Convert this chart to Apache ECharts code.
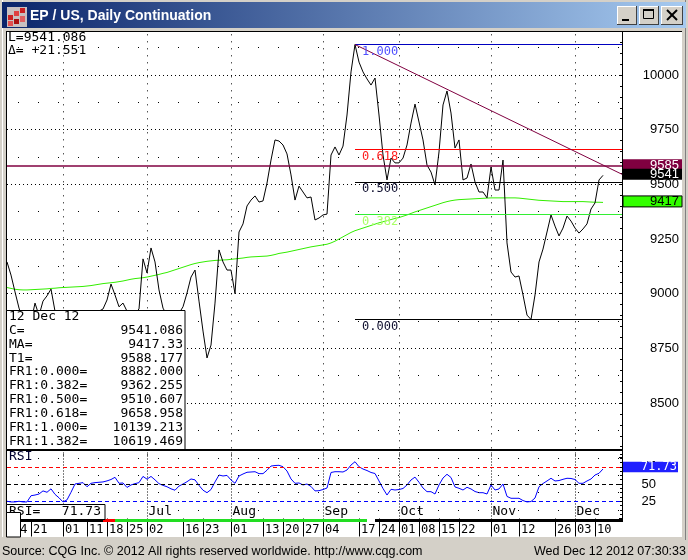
<!DOCTYPE html>
<html><head><meta charset="utf-8">
<script src="https://cdn.jsdelivr.net/npm/echarts@6.0.0/dist/echarts.min.js"></script>
<style>html,body{margin:0;padding:0;background:#d4d0c8;}#c{width:688px;height:560px;}</style>
</head><body><div id="c"></div>
<script>
// ---------------- data ----------------
const closes = [
 9145,9085,9008,8934,8880,8850,8870,8957,8900,8966,
 8990,9021,8920,8860,8820,8800,8780,8800,8830,8860,
 8880,8870,8900,8920,8930,8971,9044,8994,8940,8957,
 8920,8900,8910,8930,9159,9095,9209,9145,9017,8934,
 8900,8880,8900,8910,8940,9003,9076,9108,8966,8829,
 8706,8765,8957,9200,9145,9108,9108,9000,9282,9319,
 9401,9428,9447,9419,9424,9506,9611,9703,9698,9680,
 9639,9543,9428,9492,9465,9438,9442,9337,9346,9360,
 9364,9634,9671,9634,9675,9817,10014,10139.213,10059,10014,
 9982,9954,9986,9817,9634,9520,9620,9598,9598,9620,
 9680,9780,9867,9785,9703,9588,9556,9497,9648,9863,
 9927,9826,9666,9703,9520,9529,9593,9511,9465,9465,
 9438,9579,9474,9474,9611,9232,9099,9076,9081,8994,
 8902,8882,8994,9145,9204,9282,9360,9309,9264,9300,
 9355,9332,9300,9277,9296,9319,9387,9415,9520,9541.086];
const maValues = [
 9028,9024,9020,9018,9017,9017,9018,9019,9020,9021,
 9022,9024,9025,9027,9028,9029,9030,9031,9032,9033,
 9035,9037,9040,9043,9046,9048,9050,9052,9055,9058,
 9062,9066,9069,9071,9073,9076,9080,9084,9088,9093,
 9097,9103,9109,9115,9121,9127,9133,9138,9142,9145,
 9148,9150,9152,9153,9154,9155,9157,9159,9161,9163,
 9166,9168,9169,9170,9171,9172,9175,9179,9184,9187,
 9190,9194,9198,9202,9206,9210,9214,9217,9220,9223,
 9226,9232,9240,9250,9260,9270,9280,9288,9294,9300,
 9306,9312,9318,9324,9329,9334,9339,9344,9348,9354,
 9360,9367,9374,9380,9386,9392,9398,9404,9410,9416,
 9421,9425,9428,9430,9431,9432,9433,9434,9435,9436,
 9437,9438,9438,9438,9438,9438,9438,9438,9437,9435,
 9433,9431,9429,9427,9426,9425,9424,9423,9422,9421,
 9421,9421,9421,9421,9421,9420,9419,9418,9418,9417.33];
const rsiValues = [
 25,24,24,25,24,24,33,34,35.5,40,
 38,43,35,30,24,27,38,50,51,52,
 46,51,52,52.5,53,54.5,56.5,59.7,51,51.5,
 45,48.6,50.5,52,61,57,61,56,50.5,48,
 46,43,41,47,50,53.3,57.3,56,48,41,
 37.4,42,53,63,61.6,62.5,55.8,51,61.6,64.5,
 67,67.4,67.8,65,65,70,76,76.8,77.1,75,
 68.8,57.3,51,51.5,48.6,50,46.4,40,40.3,42,
 44.2,66.7,67.8,67.8,67.4,70.3,77.5,82.3,75,71.7,
 69.5,66.7,65.2,54.4,43.5,34,42.3,41.3,42,43.5,
 48.6,55.8,60,52.5,44.2,38.9,38.9,35.5,48.6,58.7,
 64.1,59.4,45.7,43.8,41.3,45.2,42.8,39.1,37.4,37.4,
 35.5,48.6,41.3,42.8,50,32,29.3,29.3,29.3,26,
 24,24.6,29.7,46,50.7,54.4,58.3,54.4,55,56.8,
 58.3,58,56.5,51,51,54.4,57.3,63,65.5,71.73];
const holidays = ['2012-05-28','2012-07-04','2012-09-03','2012-11-22'];
const dayLabels = ['2012-05-14','2012-05-21','2012-06-01','2012-06-11','2012-06-18','2012-06-25','2012-07-02',
 '2012-07-16','2012-07-23','2012-08-01','2012-08-13','2012-08-20','2012-08-27','2012-09-04','2012-09-17',
 '2012-09-24','2012-10-01','2012-10-08','2012-10-15','2012-10-22','2012-11-01','2012-11-12','2012-11-26',
 '2012-12-03','2012-12-10'];
const monthStarts = ['2012-06-01','2012-07-02','2012-08-01','2012-09-04','2012-10-01','2012-11-01','2012-12-03'];
const monthNames = ['Jun','Jul','Aug','Sep','Oct','Nov','Dec'];
const priceTicks = [8500,8750,9000,9250,9500,9750,10000];
const priceDotRows = [8375,8625,8875,9125,9375,9625,9875,10125];
const rsiLevels = [75,50,25];
const rsiDotRows = [87.5,62.5,37.5,12.5];
const fibLevels = [10139.213,9658.958,9510.607,9362.255,8882.000];
const fibNames = ['1.000','0.618','0.500','0.382','0.000'];
const fibColors = ['#0000c0','#ff0000','#000000','#33ee33','#000000'];
const fibLabelColors = ['#5050ff','#ff2020','#101030','#aaff66','#101030'];
const fibStartDate = '2012-09-14';
const trendStart = 10139.213;   // at 2012-09-14
const trendT1 = 9588.177;       // at 2012-12-12
const hLine = 9585;
const boxLabels = ['12 Dec 12','C=','MA=','T1=','FR1:0.000=','FR1:0.382=','FR1:0.500=','FR1:0.618=','FR1:1.000=','FR1:1.382='];
const boxValues = ['','9541.086','9417.33','9588.177','8882.000','9362.255','9510.607','9658.958','10139.213','10619.469'];
const stripSegments = [[0,24,'#000000'],[24,27,'#ff0000'],[27,90,'#22dd22'],[90,92,'#ffffff'],[92,154,'#000000']];

// ---------------- trading-day categories ----------------
const dates = [];
{ let d = new Date(Date.UTC(2012,4,11));
  while (dates.length < 155) {
    const s = d.toISOString().slice(0,10), wd = d.getUTCDay();
    if (wd !== 0 && wd !== 6 && !holidays.includes(s)) dates.push(s);
    d.setUTCDate(d.getUTCDate()+1);
  } }

const mono = "'DejaVu Sans Mono', monospace";
const sans = "'Liberation Sans', Arial, sans-serif";
const chart = echarts.init(document.getElementById('c'));

const fibIdx0 = dates.indexOf(fibStartDate);
const t1Idx = dates.indexOf('2012-12-12');
const slope = (trendT1 - trendStart) / (t1Idx - fibIdx0);
const trendEnd = trendStart + slope * (154 - fibIdx0);

const priceMarks = fibLevels.map((v,k) => [
  {coord:[fibStartDate, v], lineStyle:{color:fibColors[k], width:1, type:'solid'},
   label:{show:true, formatter:fibNames[k], position:'insideStartBottom', distance:[7,1],
          color:fibLabelColors[k], fontFamily:mono, fontSize:12}},
  {coord:[dates[154], v]}]);
priceMarks.push([{coord:[fibStartDate, trendStart], lineStyle:{color:'#800040', width:1, type:'solid'}, label:{show:false}},
                 {coord:[dates[154], trendEnd]}]);
priceMarks.push({yAxis:hLine, lineStyle:{color:'#800040', width:1.5, type:'solid'}, label:{show:false}});

const gridMarks = priceTicks.map(v => ({yAxis:v, lineStyle:{color:'#000', width:1, type:[1,3]}}))
  .concat(priceDotRows.map(v => ({yAxis:v, lineStyle:{color:'#000', width:1, type:[1,19], dashOffset:9}})));
const rsiMarks = rsiLevels.map((v,k) => ({yAxis:v, lineStyle:{color:['#ff0000','#000000','#0000ff'][k], width:1, type:[4,3]}}))
  .concat(rsiDotRows.map(v => ({yAxis:v, lineStyle:{color:'#000', width:1, type:[1,19], dashOffset:9}})));

chart.setOption({
  animation:false,
  backgroundColor:'#ffffff',
  grid:[{left:7, top:20.33, width:616, height:437.34},
        {left:7, top:449.5, width:616, height:69}],
  xAxis:[
    {type:'category', gridIndex:0, data:dates, boundaryGap:false,
     axisLine:{show:false}, axisTick:{show:false}, axisLabel:{show:false},
     splitLine:{show:true, interval:(i,v)=>monthStarts.includes(v), lineStyle:{color:'#000', width:1, type:[1,6]}}},
    {type:'category', gridIndex:1, data:dates, boundaryGap:false,
     axisLine:{show:false},
     axisTick:{show:true, interval:(i,v)=>dayLabels.includes(v), length:18, lineStyle:{color:'#000', width:1}},
     axisLabel:{show:true, interval:(i,v)=>dayLabels.includes(v), formatter:v=>v.slice(8), align:'left',
                padding:[0,0,0,2], margin:5, fontFamily:mono, fontSize:12, color:'#000'},
     splitLine:{show:true, interval:(i,v)=>monthStarts.includes(v), lineStyle:{color:'#000', width:1, type:[1,2]}}}
  ],
  yAxis:[
    {type:'value', gridIndex:0, position:'right', min:8250, max:10250, interval:250,
     axisLine:{show:false},
     axisTick:{show:true, inside:true, length:4, lineStyle:{color:'#000'}},
     minorTick:{show:true, splitNumber:5, length:3, lineStyle:{color:'#000'}},
     axisLabel:{margin:56, align:'right', formatter:v=>(v<8300||v>10200)?'':String(v),
                fontFamily:sans, fontSize:13, color:'#000'},
     splitLine:{show:false}},
    {type:'value', gridIndex:1, position:'right', min:0, max:100, interval:25,
     axisLine:{show:false},
     axisTick:{show:true, inside:true, length:4, lineStyle:{color:'#000'}},
     minorTick:{show:true, splitNumber:4, length:3, lineStyle:{color:'#000'}},
     axisLabel:{margin:33, align:'right', formatter:v=>(v>0&&v<100)?String(v):'',
                fontFamily:sans, fontSize:13, color:'#000'},
     splitLine:{show:false}}
  ],
  series:[
    {type:'line', name:'MA', xAxisIndex:0, yAxisIndex:0, data:maValues, symbol:'none', z:2,
     lineStyle:{color:'#33ee00', width:1}, silent:true,
     markLine:{silent:true, symbol:['none','none'], label:{show:false}, data:gridMarks, z:1}},
    {type:'line', name:'Close', xAxisIndex:0, yAxisIndex:0, data:closes, symbol:'none', z:3,
     lineStyle:{color:'#000', width:1}, silent:true,
     markLine:{silent:true, symbol:['none','none'], data:priceMarks}},
    {type:'line', name:'RSI', xAxisIndex:1, yAxisIndex:1, data:rsiValues, symbol:'none', z:3,
     lineStyle:{color:'#0000ff', width:1}, silent:true,
     markLine:{silent:true, symbol:['none','none'], label:{show:false}, data:rsiMarks}}
  ]
});

// ---------------- overlay graphics (frame, boxes, labels) ----------------
const yP = v => chart.convertToPixel({yAxisIndex:0}, v);
const yR = v => chart.convertToPixel({yAxisIndex:1}, v);
const xP = i => chart.convertToPixel({xAxisIndex:1}, dates[i]);
const el = [];
const R = (x,y,w,h,fill,stroke,z) => el.push({type:'rect', silent:true, z:z||100, shape:{x,y,width:w,height:h},
  style:{fill, stroke:stroke||null, lineWidth:1}});
const L = (x1,y1,x2,y2,stroke,lw,z) => el.push({type:'line', silent:true, z:z||100, shape:{x1,y1,x2,y2},
  style:{stroke, lineWidth:lw||1}});
const T = (x,y,text,font,fill,align,z) => el.push({type:'text', silent:true, z:z||102, x, y,
  style:{text, font, fill, align:align||'left', verticalAlign:'middle'}});

// window frame
R(0,0,688,31,'#d4d0c8');
R(0,0,6,560,'#d4d0c8');
R(682,0,6,560,'#d4d0c8');
R(0,537,688,23,'#d4d0c8');
L(2.5,0,2.5,537,'#ffffff',1);
L(685.5,0,685.5,540,'#808080',1);
R(2,2,684,26,new echarts.graphic.LinearGradient(0,0,1,0,[{offset:0,color:'#0a246a'},{offset:1,color:'#a6caf0'}]));
// icon
R(7,7,20,20,'#c8c0c0');
R(8,15,5,5,'#cc2020'); R(14,11,5,5,'#e04040'); R(20,8,5,5,'#cc2020'); R(14,19,5,5,'#aa1010'); R(20,16,5,6,'#e06060'); R(8,21,5,5,'#e05050');
T(30,16,'EP / US, Daily Continuation',"bold 14px 'Liberation Sans', Arial, sans-serif",'#ffffff','left');
// buttons
[[617,20],[639,20],[661,22]].forEach(([x,w]) => {
  R(x,6,w,19,'#d4d0c8');
  L(x+0.5,6,x+0.5,25,'#ffffff'); L(x,6.5,x+w,6.5,'#ffffff');
  L(x+w-0.5,6,x+w-0.5,25,'#404040'); L(x,24.5,x+w,24.5,'#404040');
});
R(622,19,7,2,'#000');
R(643.5,9.5,10,9,null,'#000'); R(643,9,11,2,'#000');
L(667,10,677,20,'#000',2); L(677,10,667,20,'#000',2);
// client borders
L(6,31.5,682,31.5,'#000',1);
L(6.5,31,6.5,537,'#000',1);
L(622.5,31,622.5,522,'#000',1);
// panel separator and bottom strip
R(6,449,617,2,'#000');
stripSegments.forEach(([a,b,c]) => { const x1 = xP(a), x2 = xP(b); R(x1,519,x2-x1,3,c); });
R(6,519,1,3,'#000');
// top-left readout
T(8,37.5,'L=9541.086',"13px "+mono,'#000','left');
T(8,51,'\u0394= +21.551',"13px "+mono,'#000','left');
// data box
R(6.5,310.5,178.5,139,'#ffffff','#000',101);
boxLabels.forEach((t,k) => {
  const y = 316.5 + 13.9*k;
  T(9,y,t,"13px "+mono,'#000','left');
  if (boxValues[k]) T(183,y,boxValues[k],"13px "+mono,'#000','right');
});
// RSI labels
T(9,457,'RSI',"13px "+mono,'#000030','left',99);
monthStarts.forEach((d,k) => T(xP(dates.indexOf(d))+1.5,512,monthNames[k],"13px "+mono,'#000','left',99));
R(6.5,504.5,98.5,15,'#ffffff','#000',101);
T(9,512,'RSI=',"13px "+mono,'#000','left');
T(101,512,'71.73',"13px "+mono,'#000','right');
R(6.5,512.5,14,24.5,'#ffffff','#000',103);
// right value boxes
const priceBoxes = [[hLine,'9585','#800040','#ffffff',null],[9541.086,'9541','#000000','#ffffff',null],[9417.33,'9417','#33ff00','#000000','#000']];
priceBoxes.forEach(([v,t,bg,fg,st]) => {
  const y = yP(v);
  R(623,y-6.5,59,11,bg,st,104);
  T(679,y-0.8,t,"13px "+sans,fg,'right',105);
});
{ const y = yR(71.73);
  R(623,y-7.3,55,10.6,'#2020ff',null,104);
  T(677,y-2,'71.73',"12px "+mono,'#ffffff','right',105); }
// footer
T(2,552,'Source: CQG Inc. \u00a9 2012 All rights reserved worldwide. http://www.cqg.com',"12.5px "+sans,'#000','left');
T(686,552,'Wed Dec 12 2012 07:30:33',"12.5px "+sans,'#000','right');

chart.setOption({graphic:{elements:el}});
</script></body></html>
